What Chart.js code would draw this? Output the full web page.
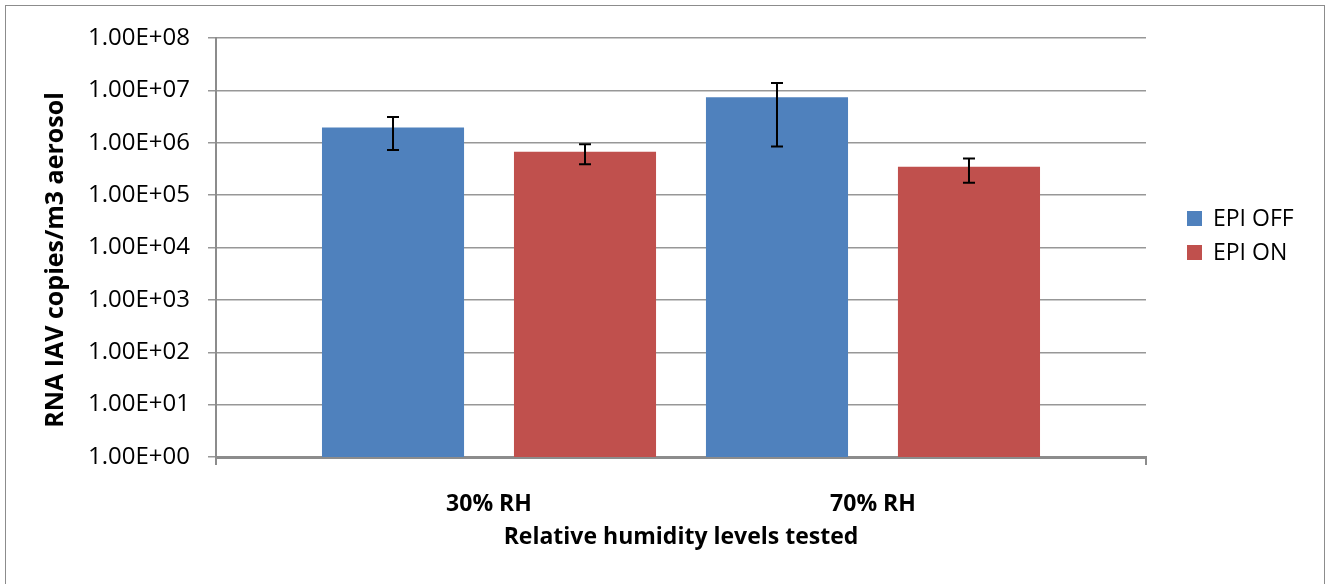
<!DOCTYPE html>
<html>
<head>
<meta charset="utf-8">
<script src="https://cdn.jsdelivr.net/npm/chart.js@4/dist/chart.umd.min.js"></script>
<style>
  html, body { margin: 0; padding: 0; background: #ffffff; overflow: hidden; }
  #frame { position: absolute; left: 5px; top: 5px; width: 1320px; height: 640px; border: 1.5px solid #8c8c8c; box-sizing: border-box; }
  #wrap { position: absolute; left: 0; top: 0; width: 1328px; height: 584px; }
</style>
</head>
<body>
<div id="frame"></div>
<div id="wrap"><canvas id="c" width="1328" height="584"></canvas></div>
<script>
// ---- data ----
const categories = ['30% RH', '70% RH'];
const seriesNames = ['EPI OFF', 'EPI ON'];
const epiOff = [1.95e6, 7.4e6];
const epiOffLow = [7.3e5, 8.5e5];
const epiOffHigh = [3.1e6, 1.38e7];
const epiOn = [6.7e5, 3.5e5];
const epiOnLow = [3.9e5, 1.72e5];
const epiOnHigh = [9.4e5, 5.0e5];
const yTicks = [1, 10, 100, 1000, 1e4, 1e5, 1e6, 1e7, 1e8];
const yTickLabels = ['1.00E+00', '1.00E+01', '1.00E+02', '1.00E+03', '1.00E+04', '1.00E+05', '1.00E+06', '1.00E+07', '1.00E+08'];
const xTitle = 'Relative humidity levels tested';
const yTitle = 'RNA IAV copies/m3 aerosol';

const FONT = '"Open Sans", "Noto Sans", sans-serif';
const GRID = '#979797';

const errorBars = {
  id: 'errorBars',
  afterDatasetsDraw(chart) {
    const ctx = chart.ctx;
    const ys = chart.scales.y;
    ctx.save();
    ctx.strokeStyle = '#000000';
    ctx.lineWidth = 2;
    chart.data.datasets.forEach((ds, i) => {
      const meta = chart.getDatasetMeta(i);
      meta.data.forEach((bar, j) => {
        const x = bar.x;
        const yh = ys.getPixelForValue(ds.errHigh[j]);
        const yl = ys.getPixelForValue(ds.errLow[j]);
        const cap = 6;
        ctx.beginPath();
        ctx.moveTo(x, yh); ctx.lineTo(x, yl);
        ctx.moveTo(x - cap, yh); ctx.lineTo(x + cap, yh);
        ctx.moveTo(x - cap, yl); ctx.lineTo(x + cap, yl);
        ctx.stroke();
      });
    });
    ctx.restore();
  }
};

const decorations = {
  id: 'decorations',
  afterDraw(chart) {
    const ctx = chart.ctx;
    const a = chart.chartArea;
    ctx.save();
    // end tick marks of the category axis
    ctx.strokeStyle = '#8c8c8c';
    ctx.lineWidth = 2;
    ctx.beginPath();
    ctx.moveTo(a.left, a.bottom); ctx.lineTo(a.left, a.bottom + 8);
    ctx.moveTo(a.right, a.bottom); ctx.lineTo(a.right, a.bottom + 8);
    ctx.stroke();
    // y axis title
    ctx.fillStyle = '#000000';
    ctx.font = 'bold 25px ' + FONT;
    ctx.textAlign = 'center';
    ctx.textBaseline = 'middle';
    ctx.translate(56, 260);
    ctx.rotate(-Math.PI / 2);
    ctx.fillText(yTitle, 0, 0);
    ctx.restore();
    // legend
    ctx.save();
    ctx.font = '23px ' + FONT;
    ctx.textAlign = 'left';
    ctx.textBaseline = 'middle';
    chart.data.datasets.forEach((ds, i) => {
      const cy = 218 + i * 34;
      ctx.fillStyle = ds.backgroundColor;
      ctx.fillRect(1187, cy - 7, 15, 15);
      ctx.fillStyle = '#000000';
      ctx.fillText(ds.label, 1213, cy + 1);
    });
    ctx.restore();
  }
};

new Chart(document.getElementById('c'), {
  type: 'bar',
  data: {
    datasets: [
      { label: seriesNames[0], data: categories.map((c, i) => ({ x: i, y: epiOff[i] })), backgroundColor: '#4F81BD', errLow: epiOffLow, errHigh: epiOffHigh },
      { label: seriesNames[1], data: categories.map((c, i) => ({ x: i, y: epiOn[i] })), backgroundColor: '#C0504D', errLow: epiOnLow, errHigh: epiOnHigh }
    ]
  },
  options: {
    responsive: false,
    animation: false,
    devicePixelRatio: 1,
    categoryPercentage: 1.0,
    barPercentage: 0.74,
    layout: { padding: { left: 0, right: 182, top: 38, bottom: 0 } },
    plugins: { legend: { display: false }, tooltip: { enabled: false } },
    scales: {
      x: {
        type: 'linear',
        offset: false,
        min: -0.711,
        max: 1.711,
        afterBuildTicks: (s) => { s.ticks = categories.map((c, i) => ({ value: i })); },
        afterFit: (s) => { s.height = 127; },
        grid: { display: false },
        border: { display: true, color: '#8c8c8c', width: 3 },
        ticks: {
          autoSkip: false,
          maxRotation: 0,
          padding: 26,
          color: '#000000',
          font: { family: FONT, size: 23, weight: 'bold' },
          callback: (v, idx) => categories[idx]
        },
        title: {
          display: true,
          text: xTitle,
          color: '#000000',
          font: { family: FONT, size: 23, weight: 'bold' },
          padding: { top: 0, bottom: 33 }
        }
      },
      y: {
        type: 'logarithmic',
        min: 1,
        max: 1e8,
        afterBuildTicks: (s) => { s.ticks = yTicks.map(v => ({ value: v })); },
        afterFit: (s) => { s.width = 216; },
        grid: { color: GRID, lineWidth: 1.5, tickLength: 8, drawTicks: true },
        border: { display: true, color: '#8c8c8c', width: 2 },
        ticks: {
          padding: 18,
          color: '#000000',
          font: { family: FONT, size: 24 },
          callback: (v, idx) => yTickLabels[idx]
        },
        title: { display: false }
      }
    }
  },
  plugins: [errorBars, decorations]
});
</script>
</body>
</html>
